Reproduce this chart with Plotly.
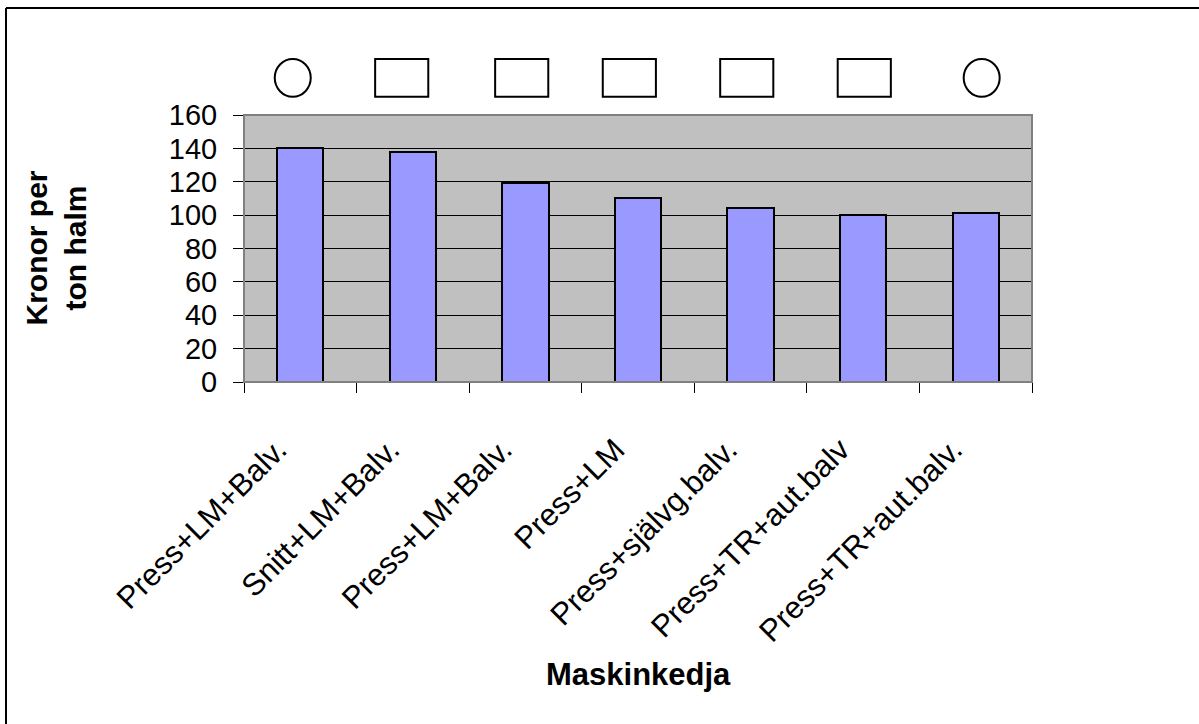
import plotly.graph_objects as go

# ---- data ----
categories = ["Press+LM+Balv.", "Snitt+LM+Balv.", "Press+LM+Balv.", "Press+LM",
              "Press+självg.balv.", "Press+TR+aut.balv", "Press+TR+aut.balv."]
values = [140, 138, 119, 110, 104, 100, 101]
symbols = ["circle", "rect", "rect", "rect", "rect", "rect", "circle"]
y_ticks = [0, 20, 40, 60, 80, 100, 120, 140, 160]

# ---- style / placement ----
W, H = 1199, 724
L, R, T, B = 244, 167, 115, 342
FONT = "Liberation Sans, Arial, sans-serif"
sym_offsets = [-0.067, -0.099, -0.033, -0.077, -0.034, 0.010, 0.053]
label_shift = -0.2
idx = list(range(len(categories)))

fig = go.Figure()
fig.add_trace(go.Bar(
    x=idx, y=values, width=0.41,
    marker=dict(color="#9999FF", line=dict(color="black", width=2)),
    showlegend=False, hoverinfo="y",
))

shapes = []
# plot-area border
shapes.append(dict(type="rect", xref="paper", yref="paper", x0=0, x1=1, y0=0, y1=1,
                   line=dict(color="#808080", width=2), layer="above"))
# outer frame (top and left edges)
pw, ph = W - L - R, H - T - B
shapes.append(dict(type="line", xref="paper", yref="paper",
                   x0=(6 - L) / pw, x1=(W - L) / pw + 0.05,
                   y0=(H - B - 8) / ph, y1=(H - B - 8) / ph,
                   line=dict(color="black", width=2)))
shapes.append(dict(type="line", xref="paper", yref="paper",
                   x0=(6 - L) / pw, x1=(6 - L) / pw,
                   y0=(H - B - 8) / ph, y1=-2,
                   line=dict(color="black", width=2)))
# symbols above the bars
sy0, sy1 = 1.0685, 1.2097
for i, (s, off) in enumerate(zip(symbols, sym_offsets)):
    c = i + off
    hw = 0.16 if s == "circle" else 0.236
    shapes.append(dict(type="circle" if s == "circle" else "rect",
                       xref="x", yref="paper", x0=c - hw, x1=c + hw,
                       y0=sy0, y1=sy1, line=dict(color="black", width=2),
                       fillcolor="white"))

annotations = [
    dict(text="<b>Kronor per<br>ton halm</b>", xref="paper", yref="paper",
         x=(55 - L) / pw, y=0.5, xanchor="center", yanchor="middle",
         textangle=-90, showarrow=False, font=dict(family=FONT, size=30, color="black")),
    dict(text="<b>Maskinkedja</b>", xref="paper", yref="paper",
         x=0.5, y=(H - B - 674) / ph, xanchor="center", yanchor="middle",
         showarrow=False, font=dict(family=FONT, size=31, color="black")),
]

fig.update_layout(
    width=W, height=H,
    margin=dict(l=L, r=R, t=T, b=B, pad=0),
    paper_bgcolor="white", plot_bgcolor="#C0C0C0",
    font=dict(family=FONT, color="black"),
    bargap=0,
    shapes=shapes, annotations=annotations,
    xaxis=dict(range=[-0.5, len(categories) - 0.5], tickmode="array",
               tickvals=[i + label_shift for i in idx], ticktext=categories,
               tickangle=-45, ticks="", ticklabelstandoff=36,
               tickfont=dict(family=FONT, size=31, color="black"),
               showgrid=False, zeroline=False, showline=True, linecolor="black", linewidth=1,
               minor=dict(tickvals=[i - 0.5 for i in range(len(categories) + 1)],
                          ticks="outside", ticklen=10, tickcolor="black", tickwidth=1,
                          showgrid=False)),
    yaxis=dict(range=[0, 160], tickmode="array", tickvals=y_ticks,
               ticks="outside", ticklen=10, tickcolor="black", ticklabelstandoff=10,
               tickfont=dict(family=FONT, size=29, color="black"),
               showgrid=True, gridcolor="black", gridwidth=1,
               zeroline=False, showline=True, linecolor="black", linewidth=1),
)

fig.write_html("out.html")
